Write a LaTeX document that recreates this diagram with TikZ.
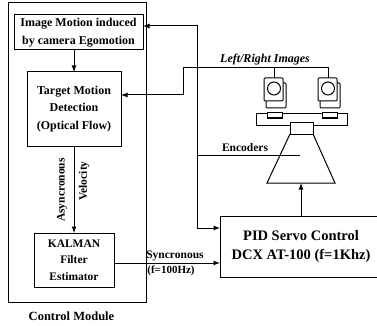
\documentclass[tikz,border=0pt]{standalone}
\usepackage{fontspec}
\setmainfont{Liberation Serif}
\usetikzlibrary{arrows.meta}
\begin{document}
\begin{tikzpicture}[x=1pt,y=-1pt,
  line width=1pt,
  box/.style={draw, inner sep=0pt, outer sep=0pt, align=center,
    font=\fontsize{12}{17.5}\selectfont\bfseries},
  lbl/.style={inner sep=0pt, font=\fontsize{11.5}{13}\selectfont\bfseries},
  arr/.style={-{Latex[length=6.5pt,width=5pt]}},
]
\useasboundingbox (0,0) rectangle (377,326);

% control module frame
\node[draw, inner sep=0pt, minimum width=138pt, minimum height=299pt] (cm) at (77,152.5) {};
\node[lbl, font=\fontsize{12.5}{14}\selectfont\bfseries] (cmlabel) at (71.5,316) {Control Module};

% processing blocks
\node[box, minimum width=129pt, minimum height=35pt] (ime) at (78.5,32.5)
  {Image Motion induced\\by camera Egomotion};
\node[box, minimum width=94pt, minimum height=74pt] (tmd) at (74,109)
  {Target Motion\\Detection\\(Optical Flow)};
\node[box, minimum width=80pt, minimum height=54pt,
  font=\fontsize{11.5}{16.5}\selectfont\bfseries] (kal) at (74,260)
  {KALMAN\\Filter\\Estimator};
\node[box, minimum width=162pt, minimum height=61pt,
  font=\fontsize{14.5}{19}\selectfont\bfseries] (pid) at (301,246.5)
  {PID Servo Control\\DCX AT-100 (f=1Khz)};

% stereo head: two cameras on a platform over a pan/tilt base
\foreach \cx/\nm in {274/camL, 328/camR}{
  \draw[rounded corners=1pt] (\cx-8,83) rectangle (\cx+12,108);
  \draw[fill=white, rounded corners=1pt] (\cx-10,78) rectangle (\cx+9,101);
  \draw (\cx,88.5) circle (6.5);
  \coordinate (\nm) at (\cx,78);
}
\draw (256,114) rectangle (347,125);
\draw[fill=white] (267,113) rectangle (282,118);
\draw[fill=white] (322,113) rectangle (337,118);
\draw[fill=white] (290,122) rectangle (313,134);
\draw (290,134) -- (267,183) -- (335,183) -- (313,134);
\coordinate (base) at (301,183);

% image lines from the cameras
\coordinate (lrL) at (274,68);
\coordinate (lrR) at (328,68);
\coordinate (lrC) at (183,68);
\coordinate (lrD) at (183,95);
\draw[arr] (camR) -- (lrR) -- (lrC) -- (lrD) -- (lrD -| tmd.east);
\draw (lrL) -- (camL);
\node[lbl, font=\fontsize{12}{14}\selectfont\bfseries\itshape] (lrlabel) at (265,60) {Left/Right Images};

% encoder feedback
\coordinate (encR) at (300,155);
\coordinate (encJ) at (197,155);
\coordinate (jTop) at (197,26);
\coordinate (jBot) at (197,228);
\draw (encR) -- (encJ);
\draw[arr] (jBot) -- (jTop) -- (jTop -| ime.east);
\draw[arr] (jTop) -- (jBot) -- (jBot -| pid.west);
\node[lbl] (enclabel) at (245,148) {Encoders};

% internal flow
\draw[arr] (tmd.north |- ime.south) -- (tmd.north);
\draw[arr] (tmd) -- (kal);
\node[lbl, rotate=90] (async) at (62,190) {Asyncronous};
\node[lbl, rotate=90] (vel) at (84,181) {Velocity};

% synchronous command to the servo controller
\coordinate (syncA) at (114,263);
\draw[arr] (syncA) -- (syncA -| pid.west);
\node[lbl, font=\fontsize{11.5}{13}\selectfont\bfseries] (synclabel) at (175,256) {Syncronous};
\node[lbl, font=\fontsize{11}{13}\selectfont\bfseries] (freqlabel) at (171,271) {(f=100Hz)};

% servo drives the head
\draw[arr] (pid.north) -- (base);
\end{tikzpicture}
\end{document}
